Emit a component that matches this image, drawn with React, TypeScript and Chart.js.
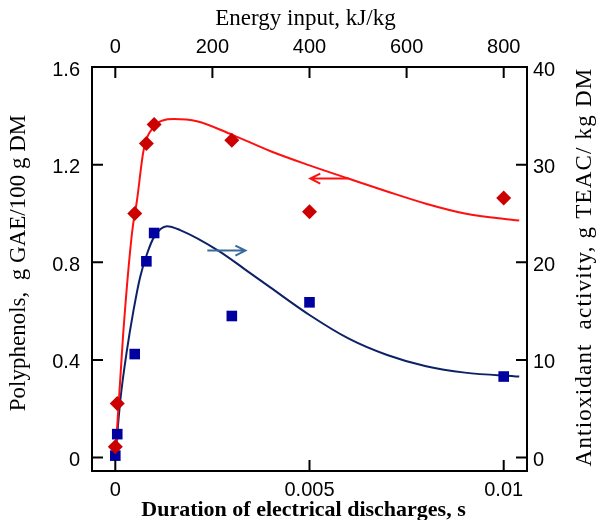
import React, { useEffect, useRef } from "react";
import { Chart, registerables } from "chart.js";

Chart.register(...registerables);

// Measured points: duration of electrical discharges (s)
const polyX = [0, 0.00005, 0.0005, 0.0008, 0.001, 0.003, 0.005, 0.01];
const polyY = [0.044, 0.222, 1.0, 1.287, 1.364, 1.3, 1.007, 1.063];
const teacX = [0, 0.00005, 0.0005, 0.0008, 0.001, 0.003, 0.005, 0.01];
const teacY = [0.2, 2.4, 10.6, 20.1, 23.0, 14.5, 15.9, 8.3];

// Fitted curves
const polyFitX = [0, 0.0002, 0.00043, 0.00056, 0.00073, 0.001, 0.00124, 0.0015, 0.0021, 0.003, 0.004, 0.005, 0.006, 0.007, 0.008, 0.009, 0.0104];
const polyFitY = [0.0, 0.5, 0.92, 1.056, 1.26, 1.357, 1.382, 1.387, 1.378, 1.323, 1.255, 1.197, 1.143, 1.09, 1.04, 1.0, 0.971];
const teacFitX = [0, 0.00013, 0.0003, 0.00047, 0.00064, 0.00082, 0.001, 0.00133, 0.00167, 0.00265, 0.0034, 0.004, 0.005, 0.006, 0.007, 0.008, 0.009, 0.0104];
const teacFitY = [0, 5.9, 11.0, 15.1, 18.5, 20.9, 22.6, 23.7, 23.3, 21.2, 19.1, 17.4, 14.6, 12.2, 10.5, 9.35, 8.7, 8.3];

// Tick values
const durationTicks = [0, 0.005, 0.01];
const energyTicks = [0, 200, 400, 600, 800];
const polyTicks = [0, 0.4, 0.8, 1.2, 1.6];
const teacTicks = [0, 10, 20, 30, 40];

// Arrows (data units): polyphenols arrow points left, antioxidant arrow points right
const polyArrowX = [0.006, 0.00502];
const polyArrowY = 1.143;
const teacArrowX = [0.00237, 0.00335];
const teacArrowY = 21.2;

const titleTop = "Energy input, kJ/kg";
const titleBottom = "Duration of electrical discharges, s";
const titleLeft = "Polyphenols,  g GAE/100 g DM";
const titleRight = "Antioxidant  activity, g TEAC/ kg DM";

const pts = (xs: number[], ys: number[]) => xs.map((x, i) => ({ x, y: ys[i] }));

const drawArrow = (ctx: CanvasRenderingContext2D, x1: number, y1: number, x2: number, y2: number, color: string) => {
  ctx.save();
  ctx.strokeStyle = color;
  ctx.lineWidth = 2;
  ctx.beginPath();
  ctx.moveTo(x1, y1);
  ctx.lineTo(x2, y2);
  const dir = Math.sign(x2 - x1);
  ctx.moveTo(x2 - dir * 10, y2 - 5);
  ctx.lineTo(x2, y2);
  ctx.lineTo(x2 - dir * 10, y2 + 5);
  ctx.stroke();
  ctx.restore();
};

const framePlugin = {
  id: "frameTicks",
  afterDatasetsDraw(chart: any) {
    const { ctx, chartArea: a, scales } = chart;
    ctx.save();
    ctx.strokeStyle = "#000";
    ctx.lineWidth = 2;
    ctx.strokeRect(a.left, a.top, a.right - a.left, a.bottom - a.top);
    const L = 11;
    ctx.beginPath();
    polyTicks.forEach((v) => {
      const p = scales.y.getPixelForValue(v);
      ctx.moveTo(a.left, p);
      ctx.lineTo(a.left + L, p);
    });
    teacTicks.forEach((v) => {
      const p = scales.y2.getPixelForValue(v);
      ctx.moveTo(a.right, p);
      ctx.lineTo(a.right - L, p);
    });
    durationTicks.forEach((v) => {
      const p = scales.x.getPixelForValue(v);
      ctx.moveTo(p, a.bottom);
      ctx.lineTo(p, a.bottom - L);
    });
    energyTicks.forEach((v) => {
      const p = scales.x2.getPixelForValue(v);
      ctx.moveTo(p, a.top);
      ctx.lineTo(p, a.top + L);
    });
    ctx.stroke();

    drawArrow(
      ctx,
      scales.x.getPixelForValue(polyArrowX[0]),
      scales.y.getPixelForValue(polyArrowY),
      scales.x.getPixelForValue(polyArrowX[1]),
      scales.y.getPixelForValue(polyArrowY),
      "#ff1010"
    );
    drawArrow(
      ctx,
      scales.x.getPixelForValue(teacArrowX[0]),
      scales.y2.getPixelForValue(teacArrowY),
      scales.x.getPixelForValue(teacArrowX[1]),
      scales.y2.getPixelForValue(teacArrowY),
      "#3a6a9c"
    );

    // Titles
    const cx = (a.left + a.right) / 2;
    const cy = (a.top + a.bottom) / 2;
    ctx.fillStyle = "#000";
    ctx.textAlign = "center";
    ctx.textBaseline = "middle";
    ctx.font = "23px 'Liberation Serif', 'Times New Roman', serif";
    ctx.fillText(titleTop, cx - 4, 19);
    ctx.font = "bold 22px 'Liberation Serif', 'Times New Roman', serif";
    ctx.fillText(titleBottom, cx - 6, 510);

    ctx.font = "23px 'Liberation Serif', 'Times New Roman', serif";
    ctx.save();
    ctx.translate(19, cy - 6);
    ctx.rotate(-Math.PI / 2);
    ctx.fillText(titleLeft, 0, 0);
    ctx.restore();

    ctx.save();
    (ctx as any).letterSpacing = "1.2px";
    ctx.translate(585, cy - 2);
    ctx.rotate(-Math.PI / 2);
    ctx.fillText(titleRight, 0, 0);
    ctx.restore();

    ctx.restore();
  },
};

const tickFont = { family: "'Liberation Sans', Arial, sans-serif", size: 20 };

export default function App() {
  const ref = useRef<HTMLCanvasElement>(null);

  useEffect(() => {
    if (!ref.current) return;
    const chart = new Chart(ref.current, {
      type: "scatter",
      data: {
        datasets: [
          {
            label: "Polyphenols",
            data: pts(polyX, polyY),
            xAxisID: "x",
            yAxisID: "y",
            pointStyle: "rectRot",
            pointRadius: 7.5,
            backgroundColor: "#cc0000",
            borderColor: "#cc0000",
            borderWidth: 0,
            showLine: false,
          },
          {
            label: "Antioxidant activity",
            data: pts(teacX, teacY),
            xAxisID: "x",
            yAxisID: "y2",
            pointStyle: "rect",
            pointRadius: 7.5,
            backgroundColor: "#0000a0",
            borderColor: "#0000a0",
            borderWidth: 0,
            showLine: false,
          },
          {
            label: "Polyphenols fit",
            data: pts(polyFitX, polyFitY),
            xAxisID: "x",
            yAxisID: "y",
            showLine: true,
            pointRadius: 0,
            borderColor: "#ff1010",
            borderWidth: 2,
            cubicInterpolationMode: "monotone",
          },
          {
            label: "Antioxidant fit",
            data: pts(teacFitX, teacFitY),
            xAxisID: "x",
            yAxisID: "y2",
            showLine: true,
            pointRadius: 0,
            borderColor: "#0d2266",
            borderWidth: 2,
            cubicInterpolationMode: "monotone",
          },
        ],
      },
      options: {
        responsive: false,
        animation: false,
        layout: { padding: 0 },
        plugins: { legend: { display: false }, tooltip: { enabled: false } },
        scales: {
          x: {
            type: "linear",
            position: "bottom",
            min: -0.0006,
            max: 0.0106,
            grid: { display: false, drawTicks: false },
            border: { display: false },
            afterBuildTicks: (s: any) => {
              s.ticks = durationTicks.map((value) => ({ value }));
            },
            afterFit: (s: any) => {
              s.height = 49;
            },
            ticks: { font: tickFont, color: "#000", padding: 7, maxRotation: 0, callback: (v: any) => String(v) },
          },
          x2: {
            type: "linear",
            position: "top",
            min: -48,
            max: 848,
            grid: { display: false, drawTicks: false },
            border: { display: false },
            afterBuildTicks: (s: any) => {
              s.ticks = energyTicks.map((value) => ({ value }));
            },
            afterFit: (s: any) => {
              s.height = 67;
            },
            ticks: { font: tickFont, color: "#000", padding: 8, maxRotation: 0, callback: (v: any) => String(v) },
          },
          y: {
            type: "linear",
            position: "left",
            min: -0.055,
            max: 1.6,
            grid: { display: false, drawTicks: false },
            border: { display: false },
            afterBuildTicks: (s: any) => {
              s.ticks = polyTicks.map((value) => ({ value }));
            },
            afterFit: (s: any) => {
              s.width = 92;
            },
            ticks: { font: tickFont, color: "#000", padding: 12, labelOffset: 3, callback: (v: any) => String(v) },
          },
          y2: {
            type: "linear",
            position: "right",
            min: -1.375,
            max: 40,
            grid: { display: false, drawTicks: false },
            border: { display: false },
            afterBuildTicks: (s: any) => {
              s.ticks = teacTicks.map((value) => ({ value }));
            },
            afterFit: (s: any) => {
              s.width = 74;
            },
            ticks: { font: tickFont, color: "#000", padding: 6, labelOffset: 3, callback: (v: any) => String(v) },
          },
        },
      } as any,
      plugins: [framePlugin],
    });
    return () => chart.destroy();
  }, []);

  return (
    <div style={{ position: "fixed", left: 0, top: 0, width: 601, height: 520, background: "#fff" }}>
      <canvas ref={ref} width={601} height={520} style={{ display: "block" }} />
    </div>
  );
}
